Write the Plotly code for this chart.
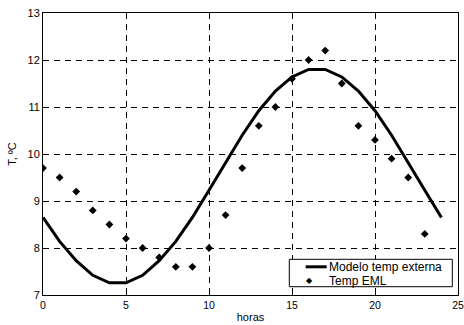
import plotly.graph_objects as go

# Hourly model of outdoor temperature (°C)
model_hours = list(range(0, 25))
model_temp = [8.65, 8.14, 7.73, 7.42, 7.26, 7.26, 7.42, 7.73, 8.14, 8.65,
              9.23, 9.83, 10.40, 10.92, 11.34, 11.64, 11.80, 11.80, 11.64,
              11.34, 10.92, 10.40, 9.83, 9.23, 8.65]

# Measured temperature at the EML station
eml_hours = list(range(0, 24))
eml_temp = [9.7, 9.5, 9.2, 8.8, 8.5, 8.2, 8.0, 7.8, 7.6, 7.6, 8.0, 8.7,
            9.7, 10.6, 11.0, 11.6, 12.0, 12.2, 11.5, 10.6, 10.3, 9.9, 9.5, 8.3]

x_ticks = [0, 5, 10, 15, 20, 25]
y_ticks = [7, 8, 9, 10, 11, 12, 13]

legend_labels = ["Modelo temp externa", "Temp EML"]

family = "Liberation Sans, Arial, sans-serif"
font = dict(family=family, size=11, color="black")
xtick_font = dict(family=family, size=10.5, color="black")

fig = go.Figure()
fig.add_trace(go.Scatter(
    x=model_hours, y=model_temp, mode="lines",
    name=legend_labels[0],
    line=dict(color="black", width=3),
))
fig.add_trace(go.Scatter(
    x=eml_hours, y=eml_temp, mode="markers",
    name=legend_labels[1],
    marker=dict(symbol="diamond", size=6, color="black"),
))

axis_common = dict(
    showline=True, linecolor="black", linewidth=1, mirror=True,
    ticks="inside", ticklen=4, tickcolor="black",
    showgrid=True, gridcolor="black", gridwidth=1, griddash="6px,5px",
    zeroline=False, automargin=False,
)

# Compact boxed legend in the lower-right corner of the axes
row1, row2 = 0.100, 0.050
shapes = [
    dict(type="rect", xref="paper", yref="paper",
         x0=0.5935, x1=0.9863, y0=0.0294, y1=0.1266,
         line=dict(color="black", width=1), fillcolor="white", layer="above"),
    dict(type="line", xref="paper", yref="paper",
         x0=0.633, x1=0.6836, y0=row1, y1=row1,
         line=dict(color="black", width=3), layer="above"),
]
annotations = [
    dict(xref="paper", yref="paper", x=0.6417, y=row2, text="◆",
         showarrow=False, xanchor="center", yanchor="middle",
         font=dict(family="DejaVu Sans", size=8, color="black")),
    dict(xref="paper", yref="paper", x=0.6836, y=row1, text=legend_labels[0],
         showarrow=False, xanchor="left", yanchor="middle",
         font=dict(family=family, size=12, color="black")),
    dict(xref="paper", yref="paper", x=0.6836, y=row2, text=legend_labels[1],
         showarrow=False, xanchor="left", yanchor="middle",
         font=dict(family=family, size=12, color="black")),
]

fig.update_layout(
    width=464, height=325,
    margin=dict(l=43, r=6, t=13, b=30),
    paper_bgcolor="white", plot_bgcolor="white",
    font=font,
    showlegend=False,
    shapes=shapes,
    annotations=annotations,
    xaxis=dict(range=[0, 25], tickvals=x_ticks, tickfont=xtick_font,
               title=dict(text="horas", standoff=3, font=font), **axis_common),
    yaxis=dict(range=[7, 13], tickvals=y_ticks, tickfont=font,
               title=dict(text="T, ºC", standoff=8, font=font), **axis_common),
)

fig.write_html("out.html")
